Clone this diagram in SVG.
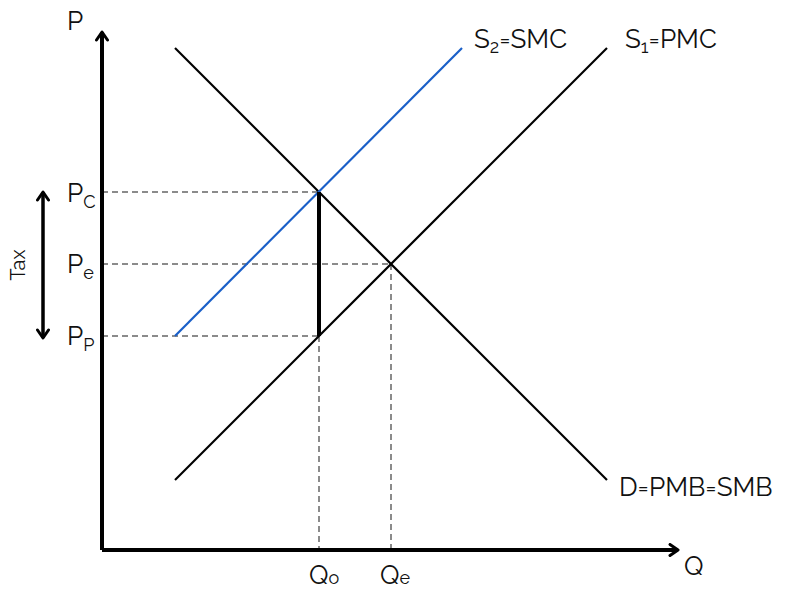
<svg xmlns="http://www.w3.org/2000/svg" width="803" height="597" viewBox="0 0 803 597">
<style>
text{font-family:Raleway,"Open Sans","Liberation Sans",sans-serif;font-size:26px;fill:#111}
.sub{font-size:18px}
.dash{stroke:#666;stroke-width:1.5;stroke-dasharray:6,4;fill:none}
.curve{stroke:#000;stroke-width:2.2;fill:none}
.ax{stroke:#000;stroke-width:4;fill:none}
</style>
<defs>
<marker id="chev" viewBox="0 0 14 14" refX="11" refY="7" markerWidth="14" markerHeight="14" markerUnits="userSpaceOnUse" orient="auto-start-reverse">
<polyline points="3,1.5 11,7 3,12.5" fill="none" stroke="#000" stroke-width="3" stroke-linecap="round" stroke-linejoin="round"/>
</marker>
</defs>
<g id="connectors">
<line class="dash" x1="102" y1="192" x2="319" y2="192"/>
<line class="dash" x1="102" y1="264" x2="391" y2="264"/>
<line class="dash" x1="102" y1="336" x2="319" y2="336"/>
<line class="dash" x1="319" y1="336" x2="319" y2="550"/>
<line class="dash" x1="391" y1="264" x2="391" y2="550"/>
</g>
<g id="demand"><line class="curve" x1="175" y1="48" x2="607" y2="480"/></g>
<g id="s1"><line class="curve" x1="175" y1="480" x2="607" y2="48"/></g>
<g id="s2"><line x1="175" y1="336" x2="462" y2="48" stroke="#1a5fc8" stroke-width="2.2"/></g>
<g id="taxwedge"><line x1="319" y1="192" x2="319" y2="336" stroke="#000" stroke-width="4"/></g>
<g id="axes">
<line class="ax" x1="102" y1="550" x2="102" y2="32" marker-end="url(#chev)"/>
<line class="ax" x1="102" y1="550" x2="678" y2="550" marker-end="url(#chev)"/>
</g>
<g id="taxarrow">
<line x1="43" y1="192" x2="43" y2="338" stroke="#000" stroke-width="3.5" marker-start="url(#chev)" marker-end="url(#chev)"/>
<text transform="translate(25,265) rotate(-90)" text-anchor="middle" style="font-size:20px;fill:#111">Tax</text>
</g>
<g id="labels">
<text x="67" y="30">P</text>
<text x="684" y="575">Q</text>
<text x="67" y="202">P<tspan class="sub" dy="6">C</tspan></text>
<text x="67" y="273">P<tspan class="sub" dy="6">e</tspan></text>
<text x="67" y="345">P<tspan class="sub" dy="6">P</tspan></text>
<text x="309" y="584">Q<tspan class="sub">o</tspan></text>
<text x="380" y="584">Q<tspan class="sub">e</tspan></text>
<text x="474" y="48">S<tspan class="sub" dy="5">2</tspan><tspan dy="-5">=SMC</tspan></text>
<text x="625" y="48">S<tspan class="sub" dy="5">1</tspan><tspan dy="-5">=PMC</tspan></text>
<text x="619" y="496">D=PMB=SMB</text>
</g>
</svg>
